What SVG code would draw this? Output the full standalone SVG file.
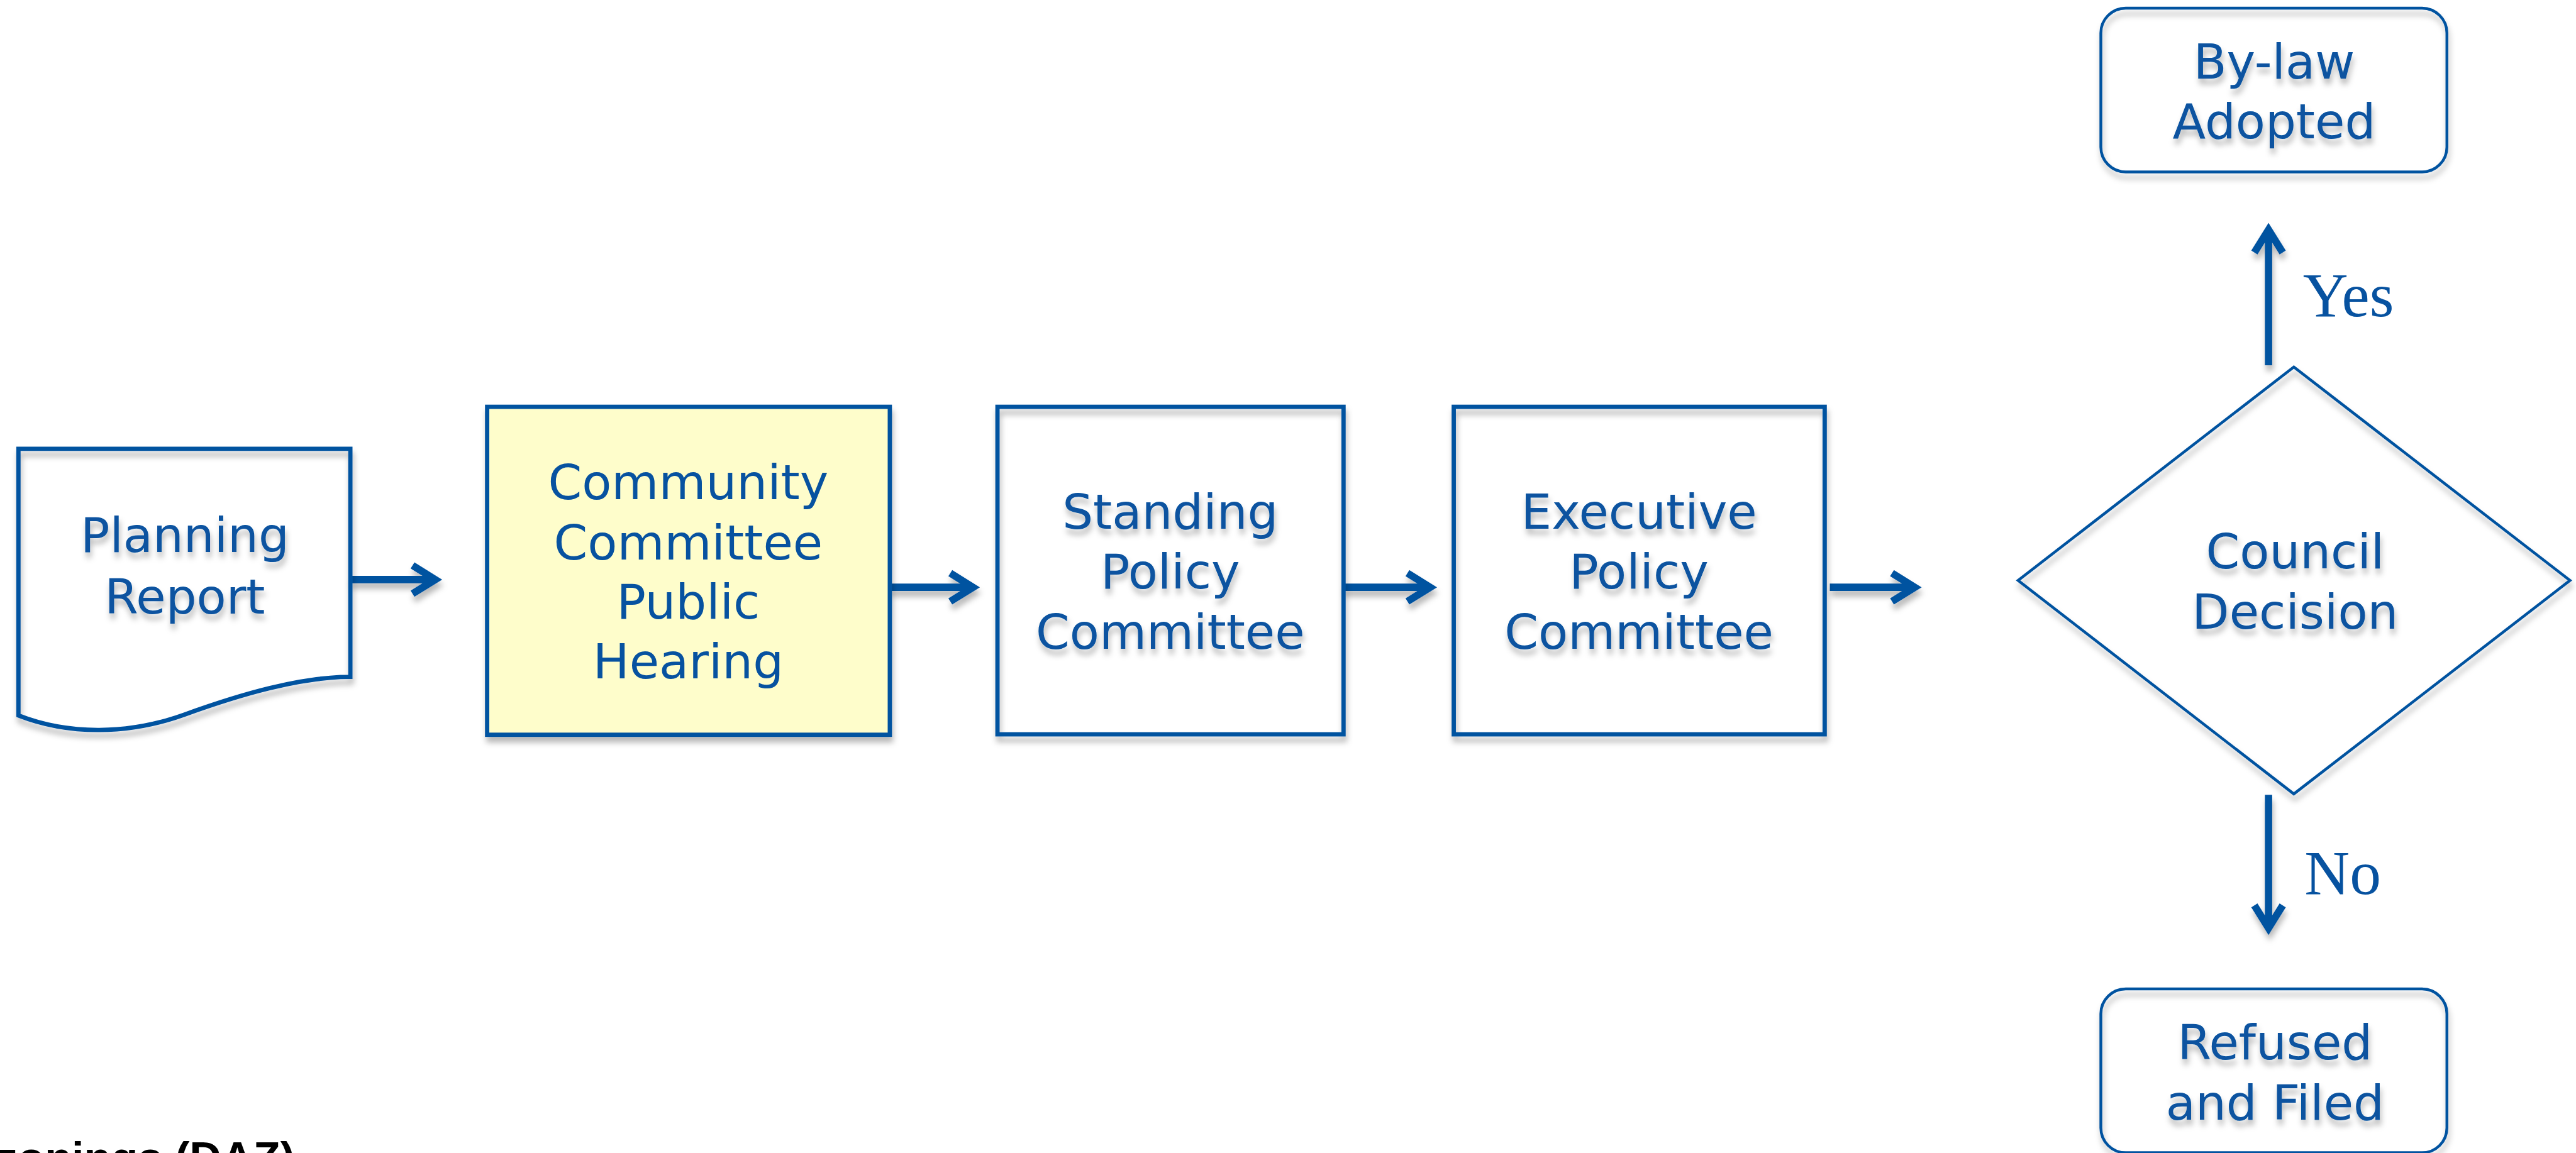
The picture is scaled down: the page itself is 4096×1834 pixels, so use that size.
<svg xmlns="http://www.w3.org/2000/svg" width="4096" height="1834" viewBox="0 0 4096 1834">
  <defs>
    <style>
      .lbl { font-family: "DejaVu Sans", "Liberation Sans", sans-serif; font-size: 113px; fill: #0752A0; text-anchor: middle; }
      .yn { font-family: "Liberation Serif", "Times New Roman", serif; font-size: 146px; fill: #0752A0; }
      .box { fill: none; stroke: #0652A0; stroke-width: 10; }
      .thin { fill: none; stroke: #0652A0; stroke-width: 6.5; }
      .hl { fill: #FEFDCB; stroke: #0652A0; stroke-width: 10; }
      .arrow { fill: none; stroke: #0652A0; stroke-width: 17; stroke-linejoin: miter; stroke-linecap: butt; }
      .note { font-family: "Liberation Sans", Arial, sans-serif; font-weight: bold; font-size: 103px; fill: #000000; }
    </style>
    <filter id="shadow" filterUnits="userSpaceOnUse" x="-500" y="-500" width="7200" height="3800">
      <feGaussianBlur in="SourceAlpha" stdDeviation="7"/>
      <feOffset dx="3" dy="13" result="blur"/>
      <feFlood flood-color="#000000" flood-opacity="0.28"/>
      <feComposite in2="blur" operator="in"/>
      <feMerge>
        <feMergeNode/>
        <feMergeNode in="SourceGraphic"/>
      </feMerge>
    </filter>
  </defs>

  <rect x="0" y="0" width="4096" height="1834" fill="#FFFFFF"/>

  <g transform="scale(0.681871)">
    <!-- flow connectors -->
    <g id="connectors" class="arrow" filter="url(#shadow)">
      <path d="M817,1352 H1010 M962,1319 L1015,1352 L962,1385"/>
      <path d="M2075,1370 H2264 M2216,1337 L2269,1370 L2216,1403"/>
      <path d="M3133,1370 H3330 M3282,1337 L3335,1370 L3282,1403"/>
      <path d="M4267,1370 H4460 M4412,1337 L4465,1370 L4412,1403"/>
      <path d="M5290,852 V541 M5257,589 L5290,536 L5323,589"/>
      <path d="M5290,1854 V2160 M5257,2112 L5290,2165 L5323,2112"/>
    </g>

    <!-- branch labels -->
    <g id="branch-labels">
      <text class="yn" x="5370" y="738">Yes</text>
      <text class="yn" x="5374" y="2085">No</text>
    </g>

    <!-- document: planning report -->
    <g id="planning-report">
      <path class="box" stroke-width="9" filter="url(#shadow)" d="M43,1047 H817 V1579 C700,1579 560,1620 430,1667 C300,1714 160,1715 43,1669 Z"/>
      <g filter="url(#shadow)">
        <text class="lbl" x="431" y="1288">Planning</text>
        <text class="lbl" x="431" y="1431">Report</text>
      </g>
    </g>

    <!-- public hearing (highlighted) -->
    <g id="community-committee">
      <rect class="hl" x="1136" y="949" width="939" height="765" filter="url(#shadow)"/>
      <text class="lbl" x="1605" y="1164">Community</text>
      <text class="lbl" x="1605" y="1305">Committee</text>
      <text class="lbl" x="1605" y="1443">Public</text>
      <text class="lbl" x="1605" y="1583">Hearing</text>
    </g>

    <!-- standing policy committee -->
    <g id="standing-policy">
      <rect class="box" x="2326" y="949" width="807" height="764" filter="url(#shadow)"/>
      <g filter="url(#shadow)">
        <text class="lbl" x="2729" y="1233">Standing</text>
        <text class="lbl" x="2729" y="1373">Policy</text>
        <text class="lbl" x="2729" y="1513">Committee</text>
      </g>
    </g>

    <!-- executive policy committee -->
    <g id="executive-policy">
      <rect class="box" x="3390" y="949" width="865" height="764" filter="url(#shadow)"/>
      <g filter="url(#shadow)">
        <text class="lbl" x="3822" y="1233">Executive</text>
        <text class="lbl" x="3822" y="1373">Policy</text>
        <text class="lbl" x="3822" y="1513">Committee</text>
      </g>
    </g>

    <!-- decision diamond -->
    <g id="council-decision">
      <path class="thin" stroke-width="7" filter="url(#shadow)" d="M5349,856 L5993,1354 L5349,1852 L4706,1354 Z"/>
      <g filter="url(#shadow)">
        <text class="lbl" x="5352" y="1326">Council</text>
        <text class="lbl" x="5352" y="1466">Decision</text>
      </g>
    </g>

    <!-- outcome: adopted -->
    <g id="bylaw-adopted">
      <rect class="thin" x="4899" y="19" width="807" height="382" rx="58" ry="58" filter="url(#shadow)"/>
      <g filter="url(#shadow)">
        <text class="lbl" x="5303" y="183">By-law</text>
        <text class="lbl" x="5303" y="323">Adopted</text>
      </g>
    </g>

    <!-- outcome: refused -->
    <g id="refused-filed">
      <rect class="thin" x="4899" y="2307" width="807" height="382" rx="58" ry="58" filter="url(#shadow)"/>
      <g filter="url(#shadow)">
        <text class="lbl" x="5305" y="2471">Refused</text>
        <text class="lbl" x="5305" y="2612">and Filed</text>
      </g>
    </g>

    <!-- caption running off the bottom edge -->
    <text class="note" x="-10" y="2737">zonings (DAZ)</text>
  </g>
</svg>
